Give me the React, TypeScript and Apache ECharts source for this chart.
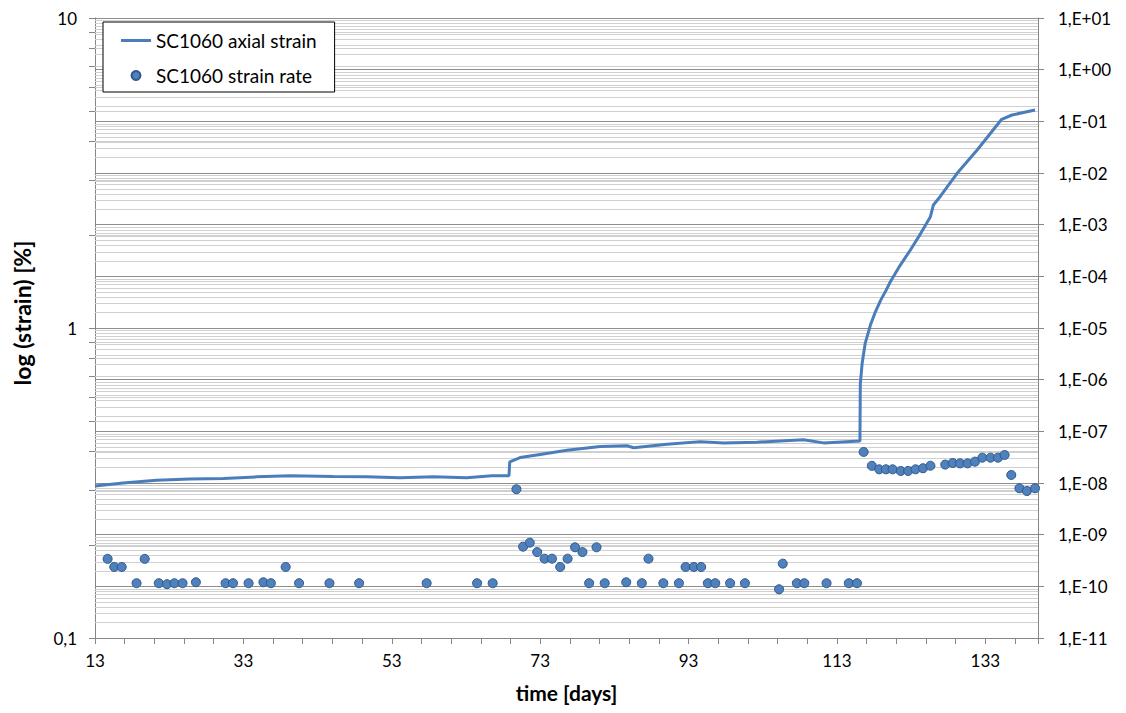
import React, { useEffect, useRef } from "react";
import * as echarts from "echarts";

// Time axis: first labelled day and last day shown
const DAY_ORIGIN = 13;
const DAY_END = 140.1;

// SC1060 axial strain [%] over time [days]
const strainDays = [
  13.0, 16.8, 21.3, 25.8, 30.3, 34.8, 39.3, 45.1, 49.6, 54.1, 58.6, 63.1, 66.5, 68.8,
  68.9, 70.3, 73.0, 76.6, 81.1, 84.7, 85.6, 90.1, 94.6, 97.7, 102.2, 108.5, 111.2, 116.1,
  116.15, 116.4, 116.8, 117.5, 118.2, 118.9, 119.6, 120.2, 121.5, 122.9, 124.3, 125.6,
  126.0, 126.9, 129.2, 131.9, 135.2, 136.6, 139.7,
];
const strainPercent = [
  0.309, 0.316, 0.323, 0.326, 0.327, 0.331, 0.334, 0.332, 0.331, 0.329, 0.331, 0.329, 0.334, 0.334,
  0.37, 0.382, 0.391, 0.403, 0.415, 0.417, 0.411, 0.422, 0.43, 0.426, 0.428, 0.436, 0.426, 0.432,
  0.66, 0.77, 0.89, 1.02, 1.13, 1.23, 1.32, 1.41, 1.59, 1.785, 2.02, 2.286,
  2.494, 2.652, 3.155, 3.752, 4.712, 4.865, 5.05,
];

// SC1060 strain rate over time [days]
const rateDays = [
  14.7, 15.6, 16.6, 18.6, 19.7, 21.6, 22.7, 23.7, 24.8, 26.6, 30.6, 31.6, 33.7, 35.7, 36.7,
  38.7, 40.5, 44.6, 48.6, 57.7, 64.5, 66.6, 69.8, 70.7, 71.6, 72.6, 73.6, 74.6, 75.7, 76.7,
  77.7, 78.7, 79.6, 80.6, 81.7, 84.6, 86.7, 87.6, 89.6, 91.7, 92.6, 93.7, 94.7, 95.6, 96.6,
  98.6, 100.6, 105.2, 105.7, 107.6, 108.6, 111.6, 114.6, 115.7, 116.6, 117.7, 118.7, 119.6,
  120.5, 121.6, 122.6, 123.6, 124.6, 125.6, 127.6, 128.6, 129.6, 130.6, 131.6, 132.6, 133.7,
  134.7, 135.6, 136.5, 137.6, 138.6, 139.7,
];
const rateValues = [
  3.4e-10, 2.37e-10, 2.37e-10, 1.15e-10, 3.4e-10, 1.15e-10, 1.1e-10, 1.15e-10, 1.15e-10, 1.2e-10,
  1.15e-10, 1.15e-10, 1.15e-10, 1.2e-10, 1.15e-10, 2.37e-10, 1.15e-10, 1.15e-10, 1.15e-10,
  1.15e-10, 1.15e-10, 1.15e-10, 7.57e-9, 5.86e-10, 7.0e-10, 4.6e-10, 3.43e-10, 3.43e-10,
  2.37e-10, 3.43e-10, 5.7e-10, 4.6e-10, 1.15e-10, 5.7e-10, 1.15e-10, 1.2e-10, 1.15e-10,
  3.43e-10, 1.15e-10, 1.15e-10, 2.37e-10, 2.37e-10, 2.37e-10, 1.15e-10, 1.15e-10, 1.15e-10,
  1.15e-10, 8.77e-11, 2.75e-10, 1.15e-10, 1.15e-10, 1.15e-10, 1.15e-10, 1.15e-10, 3.99e-8,
  2.15e-8, 1.84e-8, 1.84e-8, 1.84e-8, 1.71e-8, 1.71e-8, 1.84e-8, 1.93e-8, 2.16e-8, 2.27e-8,
  2.44e-8, 2.4e-8, 2.4e-8, 2.59e-8, 3.09e-8, 3.09e-8, 3.09e-8, 3.49e-8, 1.43e-8, 7.9e-9,
  7.0e-9, 7.9e-9,
];

// Axis ranges and gridline levels
const strainMin = 0.1;
const strainMax = 10;
const strainMinorLevels = [0.2, 0.3, 0.4, 0.5, 0.6, 0.7, 0.8, 0.9, 2, 3, 4, 5, 6, 7, 8, 9];
const rateExpMin = -11;
const rateExpMax = 1;
const rateDecadeExps = [-11, -10, -9, -8, -7, -6, -5, -4, -3, -2, -1, 0];
const rateMinorMultipliers = [2, 3, 4, 5, 6, 7, 8, 9];

const LABEL_FONT = "Lato, 'Noto Sans', sans-serif";
const lineBlue = "#4a7ebb";
const markerFill = "#4f81bd";
const markerEdge = "#2f578a";
const majorGrid = "#8e8e8e";
const minorGrid = "#d0d0d0";
const axisGray = "#868686";

const strainLabel = (v: number) =>
  v < 1 ? v.toFixed(1).replace(".", ",") : String(Math.round(v));
const rateLabel = (v: number) => {
  const e = Math.round(v);
  return "1,E" + (e < 0 ? "-" : "+") + String(Math.abs(e)).padStart(2, "0");
};
const dayLabel = (v: number) => {
  const r = Math.round(v);
  return Math.abs(v - r) < 1e-6 && r % 20 === 0 ? String(r + DAY_ORIGIN) : "";
};

export default function App() {
  const ref = useRef<HTMLDivElement>(null);

  useEffect(() => {
    document.body.style.margin = "0";
    if (!ref.current) return;
    const chart = echarts.init(ref.current, undefined, { renderer: "svg" });

    const strainData = strainDays.map((d, i) => [d - DAY_ORIGIN, strainPercent[i]]);
    const rateData = rateDays.map((d, i) => [d - DAY_ORIGIN, Math.log10(rateValues[i])]);
    const strainMinorData = strainMinorLevels.map((v) => [0, v]);
    const rateMinorData: number[][] = [];
    rateDecadeExps.forEach((e) =>
      rateMinorMultipliers.forEach((m) => rateMinorData.push([0, e + Math.log10(m)]))
    );

    // Minor horizontal gridline (and optional outward tick on the left axis)
    const minorLine = (withTick: boolean) => (params: any, api: any) => {
      const cs = params.coordSys;
      const y = Math.round(api.coord([0, api.value(1)])[1]) + 0.5;
      const children: any[] = [
        {
          type: "line",
          shape: { x1: cs.x, y1: y, x2: cs.x + cs.width, y2: y },
          style: { stroke: minorGrid, lineWidth: 1 },
        },
      ];
      if (withTick) {
        children.push({
          type: "line",
          shape: { x1: cs.x - 6, y1: y, x2: cs.x, y2: y },
          style: { stroke: axisGray, lineWidth: 1 },
        });
      }
      return { type: "group", children };
    };

    const titleStyle = {
      fontFamily: LABEL_FONT,
      fontSize: 21,
      fontWeight: "bold",
      color: "#000",
    };

    const option: any = {
      animation: false,
      backgroundColor: "#ffffff",
      grid: { left: 95, right: 88, top: 18, bottom: 75 },
      legend: {
        data: [
          { name: "SC1060 axial strain", icon: "path://M0,0H30V3H0Z" },
          { name: "SC1060 strain rate", icon: "circle" },
        ],
        orient: "vertical",
        left: 103,
        top: 22,
        padding: [9, 18, 7, 18],
        itemGap: 16,
        itemWidth: 30,
        itemHeight: 9,
        borderColor: "#000000",
        borderWidth: 1,
        backgroundColor: "#ffffff",
        textStyle: { fontFamily: LABEL_FONT, fontSize: 19, color: "#000000" },
        selectedMode: false,
      },
      xAxis: {
        type: "value",
        min: 0,
        max: DAY_END - DAY_ORIGIN,
        interval: 4,
        name: "time [days]",
        nameLocation: "middle",
        nameGap: 44,
        nameTextStyle: titleStyle,
        axisLine: { show: true, onZero: false, lineStyle: { color: axisGray, width: 1 } },
        axisTick: { show: true, length: 6, lineStyle: { color: axisGray } },
        axisLabel: {
          formatter: dayLabel,
          margin: 14,
          fontFamily: LABEL_FONT,
          fontSize: 17,
          color: "#000",
        },
        splitLine: { show: false },
      },
      yAxis: [
        {
          type: "log",
          logBase: 10,
          min: strainMin,
          max: strainMax,
          position: "left",
          name: "log (strain) [%]",
          nameLocation: "middle",
          nameGap: 62,
          nameTextStyle: { ...titleStyle, fontSize: 23, padding: [0, 0, 0, 30] },
          axisLine: { show: true, lineStyle: { color: axisGray, width: 1 } },
          axisTick: { show: true, length: 6, lineStyle: { color: axisGray } },
          axisLabel: {
            formatter: strainLabel,
            margin: 18,
            fontFamily: LABEL_FONT,
            fontSize: 17,
            color: "#000",
          },
          splitLine: { show: true, lineStyle: { color: majorGrid, width: 1 } },
        },
        {
          type: "value",
          min: rateExpMin,
          max: rateExpMax,
          interval: 1,
          position: "right",
          axisLine: { show: true, onZero: false, lineStyle: { color: axisGray, width: 1 } },
          axisTick: { show: true, length: 6, lineStyle: { color: axisGray } },
          axisLabel: {
            formatter: rateLabel,
            margin: 20,
            fontFamily: LABEL_FONT,
            fontSize: 17,
            color: "#000",
          },
          splitLine: { show: true, lineStyle: { color: majorGrid, width: 1 } },
        },
      ],
      series: [
        {
          type: "custom",
          name: "strain minor grid",
          xAxisIndex: 0,
          yAxisIndex: 0,
          data: strainMinorData,
          renderItem: minorLine(true),
          silent: true,
          z: 1,
        },
        {
          type: "custom",
          name: "rate minor grid",
          xAxisIndex: 0,
          yAxisIndex: 1,
          data: rateMinorData,
          renderItem: minorLine(false),
          silent: true,
          z: 1,
        },
        {
          type: "line",
          name: "SC1060 axial strain",
          xAxisIndex: 0,
          yAxisIndex: 0,
          data: strainData,
          symbol: "none",
          lineStyle: { color: lineBlue, width: 3 },
          itemStyle: { color: lineBlue },
          z: 3,
        },
        {
          type: "scatter",
          name: "SC1060 strain rate",
          xAxisIndex: 0,
          yAxisIndex: 1,
          data: rateData,
          symbol: "circle",
          symbolSize: 9,
          itemStyle: { color: markerFill, borderColor: markerEdge, borderWidth: 1, opacity: 1 },
          z: 4,
        },
      ],
    };

    chart.setOption(option);
    return () => chart.dispose();
  }, []);

  return (
    <div
      ref={ref}
      style={{ position: "absolute", left: 0, top: 0, width: 1126, height: 713 }}
    />
  );
}
